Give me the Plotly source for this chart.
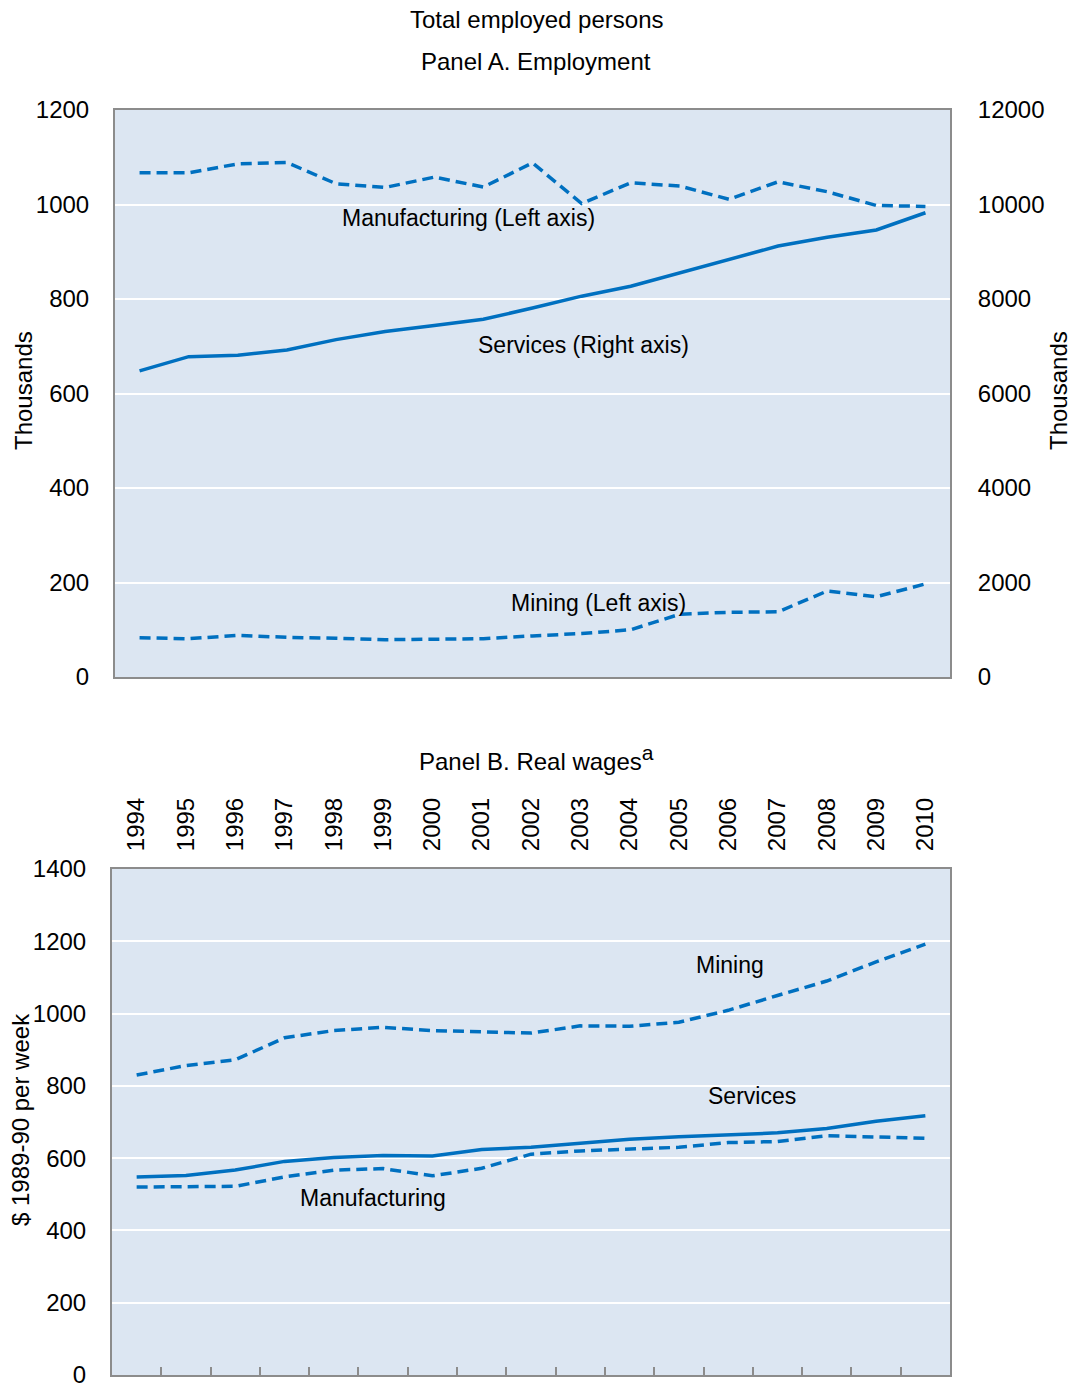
import plotly.graph_objects as go

years = list(range(1994, 2011))
year_labels = [str(y) for y in years]
tick_bounds = [y + 0.5 for y in years[:-1]]

# Panel A: Employment (thousands)
emp_manufacturing = [1067, 1067, 1086, 1089, 1044, 1036, 1058, 1037, 1088, 1002, 1046, 1039, 1011, 1048, 1027, 998, 996]
emp_mining = [83, 81, 88, 84, 82, 79, 80, 81, 87, 92, 100, 133, 137, 138, 182, 170, 197]
emp_services = [6480, 6780, 6810, 6920, 7140, 7310, 7440, 7570, 7810, 8060, 8270, 8550, 8830, 9120, 9305, 9460, 9825]

# Panel B: Real wages ($ 1989-90 per week)
wage_mining = [830, 856, 872, 933, 953, 962, 953, 950, 946, 966, 965, 976, 1009, 1050, 1090, 1143, 1192]
wage_services = [548, 552, 567, 591, 602, 607, 606, 624, 630, 641, 652, 659, 664, 670, 682, 702, 717]
wage_manufacturing = [520, 520, 522, 548, 567, 571, 551, 572, 611, 620, 624, 630, 643, 646, 662, 659, 655]

BLUE = "#0070C0"
BG = "#DCE6F2"
BORDER = "#8C8C8C"
FONT = "Liberation Sans, Arial, sans-serif"
W, H = 1075, 1383

def px(v):
    return v / W

def py(v):
    return 1 - v / H

DASH = "11px,6px"
LW = 3.5

fig = go.Figure()

fig.add_trace(go.Scatter(x=years, y=emp_manufacturing, mode="lines", xaxis="x", yaxis="y",
                         line=dict(color=BLUE, width=LW, dash=DASH), showlegend=False))
fig.add_trace(go.Scatter(x=years, y=emp_mining, mode="lines", xaxis="x", yaxis="y",
                         line=dict(color=BLUE, width=LW, dash=DASH), showlegend=False))
fig.add_trace(go.Scatter(x=years, y=emp_services, mode="lines", xaxis="x", yaxis="y3",
                         line=dict(color=BLUE, width=LW), showlegend=False))

fig.add_trace(go.Scatter(x=years, y=wage_mining, mode="lines", xaxis="x2", yaxis="y2",
                         line=dict(color=BLUE, width=LW, dash=DASH), showlegend=False))
fig.add_trace(go.Scatter(x=years, y=wage_services, mode="lines", xaxis="x2", yaxis="y2",
                         line=dict(color=BLUE, width=LW), showlegend=False))
fig.add_trace(go.Scatter(x=years, y=wage_manufacturing, mode="lines", xaxis="x2", yaxis="y2",
                         line=dict(color=BLUE, width=LW, dash=DASH), showlegend=False))
# invisible trace so the top label axis of panel B is drawn
fig.add_trace(go.Scatter(x=years, y=[None] * len(years), mode="lines", xaxis="x3", yaxis="y2",
                         showlegend=False, hoverinfo="skip"))

XR = [1993.5, 2010.5]
tickfont = dict(family=FONT, size=24, color="black")

fig.update_layout(
    width=W, height=H,
    margin=dict(l=0, r=0, t=0, b=0, pad=0),
    paper_bgcolor="white",
    plot_bgcolor=BG,
    font=dict(family=FONT, size=23, color="black"),
    xaxis=dict(domain=[px(115), px(950)], range=XR, anchor="y", automargin=False,
               showticklabels=False, ticks="", showgrid=False, zeroline=False,
               showline=True, linecolor=BORDER, linewidth=2, mirror=True),
    yaxis=dict(domain=[py(677), py(110)], range=[0, 1200], dtick=200, anchor="x", automargin=False,
               showgrid=True, gridcolor="white", gridwidth=2, zeroline=False,
               ticks="outside", ticklen=19, tickcolor="rgba(0,0,0,0)", tickfont=tickfont,
               ticklabeloverflow="allow",
               showline=True, linecolor=BORDER, linewidth=2, mirror=True),
    yaxis3=dict(range=[0, 12000], dtick=2000, tickformat="d", overlaying="y", side="right",
                anchor="x", automargin=False, ticklabeloverflow="allow",
                showgrid=False, zeroline=False, ticks="outside", ticklen=22,
                tickcolor="rgba(0,0,0,0)", tickfont=tickfont, showline=False),
    xaxis2=dict(domain=[px(112), px(950)], range=XR, anchor="y2", automargin=False,
                tickvals=tick_bounds, showticklabels=False, ticks="inside", ticklen=8,
                tickwidth=1.5, tickcolor=BORDER, showgrid=False, zeroline=False,
                showline=True, linecolor=BORDER, linewidth=2, mirror=True),
    xaxis3=dict(range=XR, overlaying="x2", side="top", anchor="y2", automargin=False,
                tickvals=years, ticktext=year_labels, tickangle=-90, tickfont=tickfont,
                ticks="outside", ticklen=12, tickcolor="rgba(0,0,0,0)",
                showgrid=False, zeroline=False, showline=False),
    yaxis2=dict(domain=[py(1375), py(869)], range=[0, 1400], dtick=200, anchor="x2", automargin=False,
                showgrid=True, gridcolor="white", gridwidth=2, zeroline=False,
                ticks="outside", ticklen=19, tickcolor="rgba(0,0,0,0)", tickfont=tickfont,
                ticklabeloverflow="allow",
                showline=True, linecolor=BORDER, linewidth=2, mirror=True),
)

def note(text, x, y, size=23, angle=0):
    fig.add_annotation(text=text, x=px(x), y=py(y), xref="paper", yref="paper",
                       showarrow=False, xanchor="center", yanchor="middle",
                       textangle=angle, font=dict(family=FONT, size=size, color="black"))

note("Total employed persons", 536, 19, 24)
note("Panel A. Employment", 536, 61, 24)
note("Panel B. Real wages<sup><span style='font-size:21px'>a</span></sup>", 536, 758, 24)
note("Thousands", 23, 391, 24, -90)
note("Thousands", 1058, 391, 24, -90)
note("$ 1989-90 per week", 20, 1120, 24, -90)

note("Manufacturing (Left axis)", 468, 218)
note("Services (Right axis)", 583, 345)
note("Mining (Left axis)", 598, 603)
note("Mining", 730, 965)
note("Services", 752, 1096)
note("Manufacturing", 373, 1198)

fig.write_html("out.html", config={"displayModeBar": False})

# remove default page margins so the figure sits at the window's top-left corner
with open("out.html", "r", encoding="utf-8") as f:
    html = f.read()
html = html.replace("<head>", "<head><style>html,body{margin:0;padding:0;overflow:hidden;}</style>", 1)
with open("out.html", "w", encoding="utf-8") as f:
    f.write(html)
